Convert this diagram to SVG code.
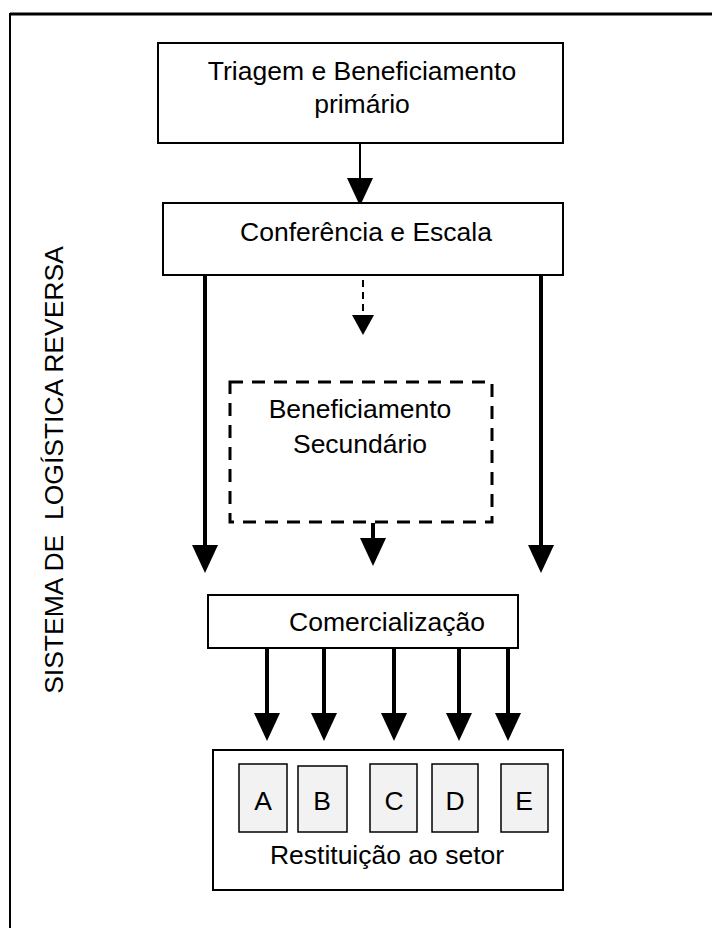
<svg xmlns="http://www.w3.org/2000/svg" width="712" height="928" viewBox="0 0 712 928">
<style>
  .box { fill: #ffffff; stroke: #000; stroke-width: 2; }
  .cell { fill: #f2f2f2; stroke: #000; stroke-width: 1.5; }
  .dbox { fill: none; stroke: #000; stroke-width: 3; stroke-dasharray: 13 9; }
  .t { font-family: "Liberation Sans", Arial, sans-serif; font-size: 26.5px; fill: #000; text-anchor: middle; }
  .thin { stroke: #000; stroke-width: 2; fill: none; }
  .thick { stroke: #000; stroke-width: 4; fill: none; }
  .dash { stroke: #000; stroke-width: 2; fill: none; stroke-dasharray: 7 5; }
</style>
<defs>
  <marker id="big" markerUnits="userSpaceOnUse" markerWidth="30" markerHeight="30" refX="0" refY="13" orient="auto" viewBox="0 0 30 30">
    <path d="M0,0 L28,13 L0,26 z" fill="#000"/>
  </marker>
  <marker id="small" markerUnits="userSpaceOnUse" markerWidth="24" markerHeight="24" refX="0" refY="11" orient="auto" viewBox="0 0 24 24">
    <path d="M0,0 L20,11 L0,22 z" fill="#000"/>
  </marker>
</defs>
<rect width="712" height="928" fill="#fff"/>
<g id="frame">
  <line x1="10" y1="14" x2="712" y2="14" stroke="#000" stroke-width="3"/>
  <line x1="10" y1="13" x2="10" y2="928" stroke="#000" stroke-width="2"/>
</g>
<g id="label-sistema">
  <text class="t" transform="translate(63,470) rotate(-90)" xml:space="preserve" style="white-space:pre">SISTEMA DE  LOGÍSTICA REVERSA</text>
</g>
<g id="connectors">
  <line class="thin" x1="360" y1="143" x2="360" y2="178" marker-end="url(#big)"/>
  <line class="dash" x1="363" y1="280" x2="363" y2="315" marker-end="url(#small)"/>
  <line class="thick" x1="205" y1="275" x2="205" y2="545" marker-end="url(#big)"/>
  <line class="thick" x1="541" y1="275" x2="541" y2="545" marker-end="url(#big)"/>
  <line class="thick" x1="373" y1="523" x2="373" y2="538" marker-end="url(#big)"/>
  <line class="thick" x1="267" y1="648" x2="267" y2="713" marker-end="url(#big)"/>
  <line class="thick" x1="324" y1="648" x2="324" y2="713" marker-end="url(#big)"/>
  <line class="thick" x1="394" y1="648" x2="394" y2="713" marker-end="url(#big)"/>
  <line class="thick" x1="459" y1="648" x2="459" y2="713" marker-end="url(#big)"/>
  <line class="thick" x1="508" y1="648" x2="508" y2="713" marker-end="url(#big)"/>
</g>
<g id="triagem">
  <rect class="box" x="158" y="43" width="405" height="100"/>
  <text class="t" x="362" y="80">Triagem e Beneficiamento</text>
  <text class="t" x="362" y="113">primário</text>
</g>
<g id="conferencia">
  <rect class="box" x="163" y="203" width="400" height="72"/>
  <text class="t" x="366" y="241">Conferência e Escala</text>
</g>
<g id="beneficiamento-secundario">
  <rect class="dbox" x="230" y="382" width="262" height="140"/>
  <text class="t" x="360" y="418">Beneficiamento</text>
  <text class="t" x="360" y="453">Secundário</text>
</g>
<g id="comercializacao">
  <rect class="box" x="208" y="595" width="310" height="53"/>
  <text class="t" x="387" y="631">Comercialização</text>
</g>
<g id="restituicao">
  <rect class="box" x="213" y="750" width="350" height="140"/>
  <text class="t" x="387" y="864">Restituição ao setor</text>
</g>
<g id="cell-A"><rect class="cell" x="239" y="764" width="48" height="68"/><text class="t" x="263" y="810">A</text></g>
<g id="cell-B"><rect class="cell" x="298" y="766" width="49" height="66"/><text class="t" x="322" y="810">B</text></g>
<g id="cell-C"><rect class="cell" x="370" y="764" width="47" height="68"/><text class="t" x="394" y="810">C</text></g>
<g id="cell-D"><rect class="cell" x="432" y="764" width="46" height="68"/><text class="t" x="455" y="810">D</text></g>
<g id="cell-E"><rect class="cell" x="501" y="764" width="47" height="68"/><text class="t" x="524" y="810">E</text></g>
</svg>
